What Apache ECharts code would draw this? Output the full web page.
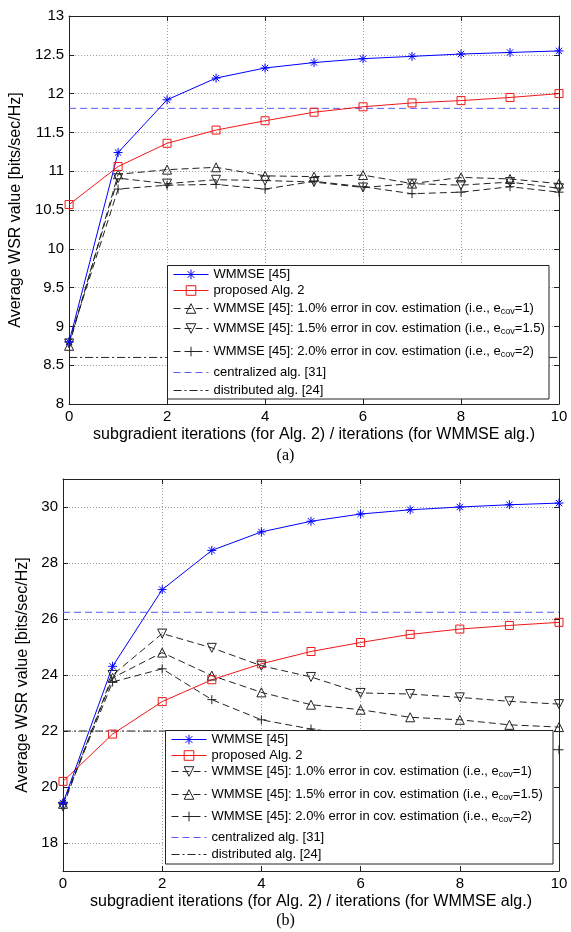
<!DOCTYPE html>
<html>
<head>
<meta charset="utf-8">
<script src="https://cdn.jsdelivr.net/npm/echarts@6/dist/echarts.min.js"></script>
<style>
html,body{margin:0;padding:0;background:#fff;}
#c{width:571px;height:932px;}
</style>
</head>
<body>
<div id="c"></div>
<script>
// ---------- data ----------
const iterations = [0, 1, 2, 3, 4, 5, 6, 7, 8, 9, 10];

// (a)
const wmmseA    = [8.80, 11.24, 11.92, 12.20, 12.33, 12.40, 12.45, 12.48, 12.51, 12.53, 12.55];
const proposedA = [10.57, 11.06, 11.36, 11.53, 11.65, 11.76, 11.83, 11.88, 11.91, 11.95, 12.00];
const err10A    = [8.75, 10.96, 11.02, 11.05, 10.94, 10.93, 10.95, 10.84, 10.92, 10.90, 10.84];
const err15A    = [8.78, 10.91, 10.84, 10.89, 10.88, 10.86, 10.79, 10.84, 10.82, 10.86, 10.78];
const err20A    = [8.80, 10.77, 10.82, 10.83, 10.77, 10.87, 10.80, 10.71, 10.73, 10.80, 10.73];
const centralizedA = 11.81;
const distributedA = 8.60;

// (b)
const wmmseB    = [19.43, 24.31, 27.05, 28.45, 29.11, 29.49, 29.75, 29.90, 30.00, 30.08, 30.14];
const proposedB = [20.20, 21.89, 23.05, 23.83, 24.40, 24.84, 25.16, 25.45, 25.64, 25.77, 25.88];
const err10B    = [19.30, 24.00, 25.48, 24.97, 24.33, 23.93, 23.36, 23.32, 23.20, 23.06, 22.96];
const err15B    = [19.40, 23.90, 24.80, 23.98, 23.38, 22.94, 22.76, 22.49, 22.40, 22.22, 22.14];
const err20B    = [19.40, 23.75, 24.22, 23.12, 22.40, 22.07, 21.85, 21.70, 21.55, 21.45, 21.33];
const centralizedB = 26.24;
const distributedB = 22.00;

const namesA = [
  'WMMSE [45]',
  'proposed Alg. 2',
  'WMMSE [45]: 1.0% error in cov. estimation (i.e., e_cov=1)',
  'WMMSE [45]: 1.5% error in cov. estimation (i.e., e_cov=1.5)',
  'WMMSE [45]: 2.0% error in cov. estimation (i.e., e_cov=2)',
  'centralized alg. [31]',
  'distributed alg. [24]'
];
const namesB = namesA.map(n => n + '\u200b');

const xTitle = 'subgradient iterations (for Alg. 2) / iterations (for WMMSE alg.)';
const yTitle = 'Average WSR value [bits/sec/Hz]';
const panelLabels = ['(a)', '(b)'];

// ---------- styles ----------
const FONT = '"Liberation Sans", Arial, Helvetica, sans-serif';
const BLUE = '#0000ff', RED = '#f01818', BLACK = '#222', CBLUE = '#5a5af2';
const SYM = {
  star: 'path://M5,0L5,10M0,5L10,5M1.5,1.5L8.5,8.5M8.5,1.5L1.5,8.5',
  square: 'path://M0,0L10,0L10,10L0,10Z',
  up: 'path://M5,0L10,9L0,9Z',
  down: 'path://M0,0L10,0L5,9Z',
  plus: 'path://M5,0L5,10M0,5L10,5'
};
const DASH = [7, 4];
const DASHDOT = [8, 3, 2, 3];
const CLEAR = 'rgba(0,0,0,0)';

function pts(vals) { return iterations.map((x, i) => [x, vals[i]]); }
function hline(v) { return [[iterations[0], v], [iterations[iterations.length - 1], v]]; }

function ser(name, gi, data, color, symbol, size, dash) {
  return {
    type: 'line', name, xAxisIndex: gi * 2, yAxisIndex: gi * 2, data,
    symbol: symbol || 'none', symbolSize: size || 8, showSymbol: !!symbol,
    lineStyle: { color, width: 1, type: dash || 'solid' },
    itemStyle: { color: CLEAR, borderColor: color, borderWidth: 1 },
    emphasis: { disabled: true }, silent: true, z: 2
  };
}

const series = [
  ser(namesA[6], 0, hline(distributedA), BLACK, null, 0, DASHDOT),
  ser(namesA[5], 0, hline(centralizedA), CBLUE, null, 0, DASH),
  ser(namesA[2], 0, pts(err10A), BLACK, SYM.up, 9, DASH),
  ser(namesA[3], 0, pts(err15A), BLACK, SYM.down, 9, DASH),
  ser(namesA[4], 0, pts(err20A), BLACK, SYM.plus, 9, DASH),
  ser(namesA[1], 0, pts(proposedA), RED, SYM.square, 8),
  ser(namesA[0], 0, pts(wmmseA), BLUE, SYM.star, 9),

  ser(namesB[6], 1, hline(distributedB), BLACK, null, 0, DASHDOT),
  ser(namesB[5], 1, hline(centralizedB), CBLUE, null, 0, DASH),
  ser(namesB[2], 1, pts(err10B), BLACK, SYM.down, 9, DASH),
  ser(namesB[3], 1, pts(err15B), BLACK, SYM.up, 9, DASH),
  ser(namesB[4], 1, pts(err20B), BLACK, SYM.plus, 9, DASH),
  ser(namesB[1], 1, pts(proposedB), RED, SYM.square, 8),
  ser(namesB[0], 1, pts(wmmseB), BLUE, SYM.star, 9)
];
const seriesByName = {};
series.forEach(s => { seriesByName[s.name] = s; });

// ---------- layout ----------
const grids = [
  { left: 64, width: 495, top: 16, height: 388 },
  { left: 63, width: 496, top: 479, height: 392 }
];
const legendRows = [
  [276, 292, 310, 330, 353, 374, 392],
  [741, 757, 773, 796, 818, 839, 856]
];
const legendBox = [
  { x: 167.5, y: 265.5, w: 381.5, h: 133.5 },
  { x: 165.5, y: 730.5, w: 387.5, h: 133.5 }
];

const axisLineStyle = { color: '#222', width: 1 };
const gridLine = { show: true, lineStyle: { color: '#9a9a9a', type: [1, 2], width: 1 } };

const xAxes = [], yAxes = [];
[0, 1].forEach(gi => {
  xAxes.push({
    type: 'value', gridIndex: gi, min: 0, max: 10, interval: 2, position: 'bottom',
    axisLine: { show: true, onZero: false, lineStyle: axisLineStyle },
    axisTick: { show: true, inside: true, length: 5, lineStyle: axisLineStyle },
    axisLabel: { color: '#000', fontSize: 15, fontFamily: FONT, margin: 5 },
    splitLine: gridLine,
    name: xTitle, nameLocation: 'middle', nameGap: 23,
    nameTextStyle: { color: '#000', fontSize: 16, fontFamily: FONT }
  });
  xAxes.push({
    type: 'value', gridIndex: gi, min: 0, max: 10, interval: 2, position: 'top',
    axisLine: { show: true, onZero: false, lineStyle: axisLineStyle },
    axisTick: { show: true, inside: true, length: 5, lineStyle: axisLineStyle },
    axisLabel: { show: false }, splitLine: { show: false }
  });
});
const yRange = [
  { min: 8, max: 13, interval: 0.5 },
  { min: 17, max: 31, splitNumber: 7 }
];
const yNameGap = [34, 20];
[0, 1].forEach(gi => {
  const r = yRange[gi];
  const fmt = gi === 0 ? (v => String(v)) : (v => (v % 2 === 0 ? String(v) : ''));
  yAxes.push(Object.assign({
    type: 'value', gridIndex: gi, position: 'left',
    axisLine: { show: true, onZero: false, lineStyle: axisLineStyle },
    axisTick: { show: true, inside: true, length: 5, lineStyle: axisLineStyle },
    axisLabel: { color: '#000', fontSize: 15, fontFamily: FONT, margin: 5, formatter: fmt },
    splitLine: gridLine,
    name: yTitle, nameLocation: 'middle', nameGap: yNameGap[gi], nameRotate: 90,
    nameTextStyle: { color: '#000', fontSize: 16, fontFamily: FONT }
  }, r));
  yAxes.push(Object.assign({
    type: 'value', gridIndex: gi, position: 'right',
    axisLine: { show: true, onZero: false, lineStyle: axisLineStyle },
    axisTick: { show: true, inside: true, length: 5, lineStyle: axisLineStyle },
    axisLabel: { show: false }, splitLine: { show: false }
  }, r));
});

const legends = [];
[namesA, namesB].forEach((names, gi) => {
  names.forEach((n, k) => {
    const s = seriesByName[n];
    const isRef = k >= 5;
    const item = {
      name: n,
      lineStyle: { color: s.lineStyle.color, type: s.lineStyle.type, width: 1 },
      itemStyle: isRef
        ? { color: CLEAR, borderColor: CLEAR, borderWidth: 0 }
        : { color: CLEAR, borderColor: s.lineStyle.color, borderWidth: 1 }
    };
    legends.push({
      data: [item],
      left: legendBox[gi].x + 5.5, top: legendRows[gi][k] - 8,
      orient: 'horizontal', padding: 0, itemGap: 0,
      itemWidth: 35, itemHeight: 12, selectedMode: false, z: 10,
      formatter: name => name.replace('\u200b', '').replace('e_cov', 'e{sub|cov}'),
      textStyle: {
        color: '#000', fontSize: 13, fontFamily: FONT,
        rich: { sub: { fontSize: 9, fontFamily: FONT, color: '#000', padding: [6, 0, 0, 0] } }
      }
    });
  });
});

const graphics = legendBox.map(b => ({
  type: 'rect', shape: { x: b.x, y: b.y, width: b.w, height: b.h },
  style: { fill: '#fff', stroke: '#222', lineWidth: 1 }, z: 5, silent: true
}));
graphics.push(
  { type: 'text', left: 'center', top: 448, style: { text: panelLabels[0], fill: '#000', font: '16px "Liberation Serif", "Times New Roman", serif' }, z: 5 },
  { type: 'text', left: 'center', top: 913, style: { text: panelLabels[1], fill: '#000', font: '16px "Liberation Serif", "Times New Roman", serif' }, z: 5 }
);

const chart = echarts.init(document.getElementById('c'), null, { renderer: 'canvas' });
chart.setOption({
  animation: false,
  backgroundColor: '#fff',
  textStyle: { fontFamily: FONT },
  grid: grids,
  xAxis: xAxes,
  yAxis: yAxes,
  legend: legends,
  graphic: graphics,
  series: series
});
</script>
</body>
</html>
